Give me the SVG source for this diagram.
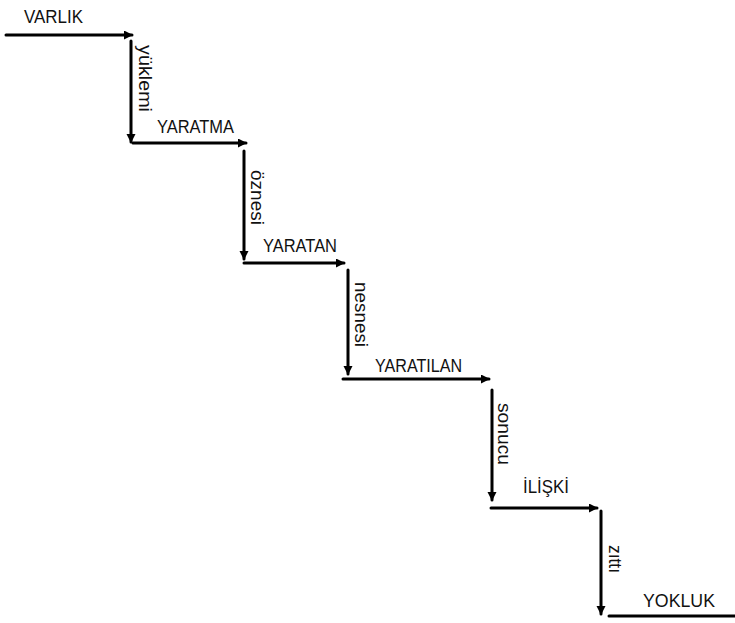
<svg xmlns="http://www.w3.org/2000/svg" width="735" height="623" viewBox="0 0 735 623">
<style>
.bg{fill:#fff}
.ln{stroke:#000;stroke-width:3;fill:none;stroke-linecap:round}
.lab{font-family:"Liberation Sans",Arial,sans-serif;font-size:19px;fill:#111}
.vl{font-family:"Liberation Sans",Arial,sans-serif;font-size:18px;fill:#111}
</style>
<defs>
<marker id="ah" markerUnits="userSpaceOnUse" markerWidth="10" markerHeight="10" refX="8" refY="4.5" orient="auto">
<path d="M0,0 L9,4.5 L0,9 z" fill="#000"/>
</marker>
</defs>
<rect class="bg" width="735" height="623"/>
<g id="node-varlik">
<line class="ln" x1="6" y1="35" x2="132" y2="35" marker-end="url(#ah)"/>
<text class="lab" x="24" y="22.5" textLength="59" lengthAdjust="spacingAndGlyphs">VARLIK</text>
</g>
<g id="node-yaratma">
<line class="ln" x1="133" y1="143" x2="246" y2="143" marker-end="url(#ah)"/>
<text class="lab" x="157" y="133" textLength="77" lengthAdjust="spacingAndGlyphs">YARATMA</text>
</g>
<g id="node-yaratan">
<line class="ln" x1="244" y1="263" x2="344" y2="263" marker-end="url(#ah)"/>
<text class="lab" x="263" y="252" textLength="74" lengthAdjust="spacingAndGlyphs">YARATAN</text>
</g>
<g id="node-yaratilan">
<line class="ln" x1="343" y1="379" x2="489" y2="379" marker-end="url(#ah)"/>
<text class="lab" x="375" y="371.5" textLength="87" lengthAdjust="spacingAndGlyphs">YARATILAN</text>
</g>
<g id="node-iliski">
<line class="ln" x1="491" y1="508" x2="597" y2="508" marker-end="url(#ah)"/>
<text class="lab" x="523" y="493" textLength="46" lengthAdjust="spacingAndGlyphs">İLİŞKİ</text>
</g>
<g id="node-yokluk">
<line class="ln" x1="609" y1="616" x2="736" y2="616"/>
<text class="lab" x="643" y="607" textLength="72" lengthAdjust="spacingAndGlyphs">YOKLUK</text>
</g>
<g id="connectors">
<line class="ln" x1="131" y1="41" x2="131" y2="142" marker-end="url(#ah)"/>
<text class="vl" transform="translate(138.5,45) rotate(90)" textLength="67" lengthAdjust="spacingAndGlyphs">yüklemi</text>
<line class="ln" x1="244" y1="151" x2="244" y2="259" marker-end="url(#ah)"/>
<text class="vl" transform="translate(251,170) rotate(90)" textLength="55" lengthAdjust="spacingAndGlyphs">öznesi</text>
<line class="ln" x1="348" y1="270" x2="348" y2="374" marker-end="url(#ah)"/>
<text class="vl" transform="translate(355,282) rotate(90)" textLength="65" lengthAdjust="spacingAndGlyphs">nesnesi</text>
<line class="ln" x1="492" y1="390" x2="492" y2="500" marker-end="url(#ah)"/>
<text class="vl" transform="translate(497.5,403) rotate(90)" textLength="62" lengthAdjust="spacingAndGlyphs">sonucu</text>
<line class="ln" x1="601" y1="511" x2="601" y2="614" marker-end="url(#ah)"/>
<text class="vl" transform="translate(609,545) rotate(90)" textLength="28" lengthAdjust="spacingAndGlyphs">zıttı</text>
</g>
</svg>
